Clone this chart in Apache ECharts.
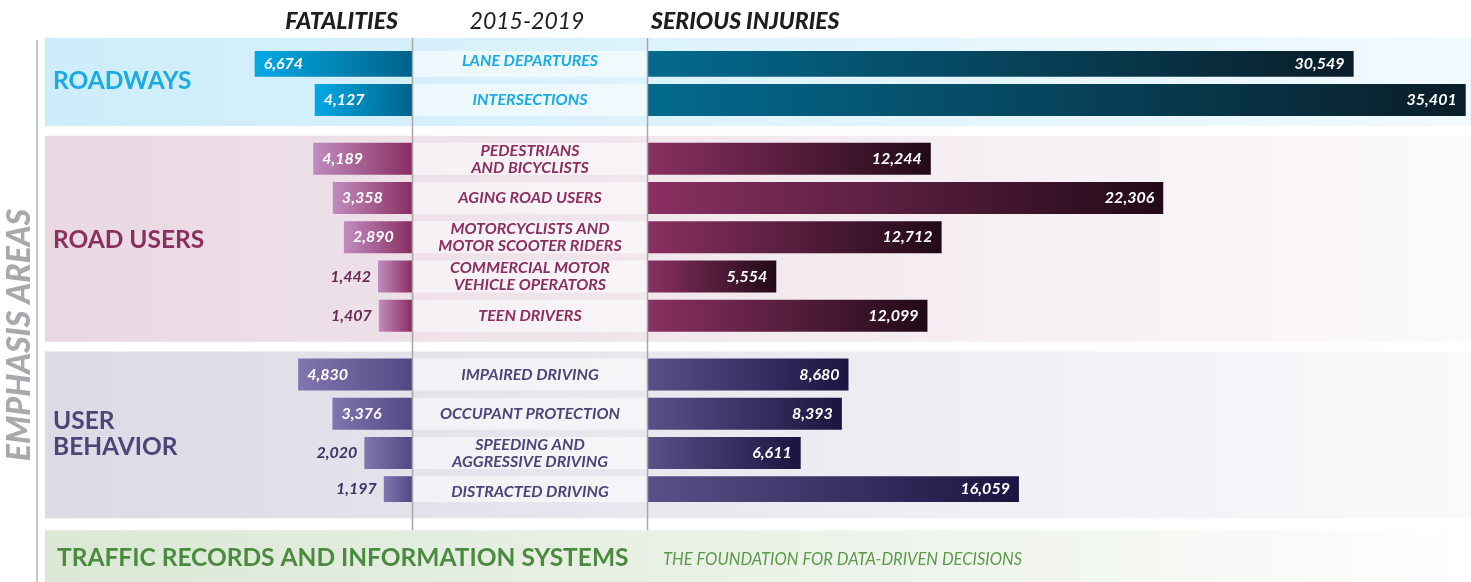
<!DOCTYPE html>
<html>
<head>
<meta charset="utf-8">
<title>Emphasis areas 2015-2019</title>
<script src="https://cdn.jsdelivr.net/npm/echarts@6/dist/echarts.min.js"></script>
<style>
  html, body { margin: 0; padding: 0; background: #fff; }
  #main { width: 1471px; height: 582px; }
</style>
</head>
<body>
<div id="main"></div>
<script>
// data
var groupLabels = ['ROADWAYS', 'ROAD USERS', 'USER\nBEHAVIOR'];
var categories = [
    'LANE DEPARTURES', 'INTERSECTIONS',
    'PEDESTRIANS\nAND BICYCLISTS', 'AGING ROAD USERS', 'MOTORCYCLISTS AND\nMOTOR SCOOTER RIDERS',
    'COMMERCIAL MOTOR\nVEHICLE OPERATORS', 'TEEN DRIVERS',
    'IMPAIRED DRIVING', 'OCCUPANT PROTECTION', 'SPEEDING AND\nAGGRESSIVE DRIVING', 'DISTRACTED DRIVING'
];
var categoryGroup = [0, 0, 1, 1, 1, 1, 1, 2, 2, 2, 2];
var fatalities = [6674, 4127, 4189, 3358, 2890, 1442, 1407, 4830, 3376, 2020, 1197];
var seriousInjuries = [30549, 35401, 12244, 22306, 12712, 5554, 12099, 8680, 8393, 6611, 16059];

// look
var FONT = 'Lato, "Open Sans", sans-serif';
var groupColor = ['#1aabe3', '#8b2f60', '#4d4478'];
var numDark = ['#00638a', '#6b2a53', '#3b3365'];
var fatalGrad = [['#00a9e5', '#00628a'], ['#c18cbf', '#892e61'], ['#8276b0', '#544884']];
var injGrad = [['#036a8f', '#0a1d28'], ['#8a3062', '#220a17'], ['#5a5089', '#1a1540']];
var bandGrad = [['#cdedfa', '#f1fafe'], ['#e9d8e2', '#fcfafb'], ['#dcdae5', '#fafafc']];

var LEFT_X = 247, MID_X = 412, RIGHT_X = 648, TOP = 51, H = 451;

function grad(c) {
    return new echarts.graphic.LinearGradient(0, 0, 1, 0, [
        { offset: 0, color: c[0] }, { offset: 1, color: c[1] }
    ]);
}
function fmt(v) { return Number(v).toLocaleString('en-US'); }

// one slot per row, a blank slot between rows, two between groups
var slots = [], fatalData = [], injData = [], stripData = [], slotLabel = {};
categories.forEach(function (name, i) {
    var grp = categoryGroup[i];
    if (i > 0) {
        var gaps = grp !== categoryGroup[i - 1] ? 2 : 1;
        for (var k = 0; k < gaps; k++) {
            var g = 'gap' + slots.length;
            slots.push(g);
            slotLabel[g] = '';
            fatalData.push('-');
            injData.push('-');
            stripData.push('-');
        }
    }
    var key = 'row' + i;
    slots.push(key);
    slotLabel[key] = name.split('\n').map(function (l) { return '{g' + grp + '|' + l + '}'; }).join('\n');
    var inside = fatalities[i] >= 2500;
    fatalData.push({
        value: fatalities[i],
        itemStyle: { color: grad(fatalGrad[grp]) },
        label: {
            position: inside ? 'insideLeft' : 'left',
            color: inside ? '#fff' : numDark[grp],
            distance: inside ? 9 : 7
        }
    });
    injData.push({ value: seriousInjuries[i], itemStyle: { color: grad(injGrad[grp]) } });
    stripData.push(1);
});

var rich = {};
groupColor.forEach(function (c, i) {
    rich['g' + i] = {
        color: c, fontFamily: FONT, fontSize: 16, fontWeight: 'bold', fontStyle: 'italic',
        lineHeight: 17, align: 'center'
    };
});

var valueLabel = {
    show: true,
    formatter: function (p) { return fmt(p.value); },
    fontFamily: FONT, fontSize: 16, fontWeight: 'bold', fontStyle: 'italic'
};

var chart = echarts.init(document.getElementById('main'));
chart.setOption({
    animation: false,
    grid: [
        { left: LEFT_X, width: MID_X - LEFT_X, top: TOP, height: H },
        { left: MID_X + 1, width: RIGHT_X - MID_X - 2, top: TOP, height: H },
        { left: RIGHT_X, right: 3, top: TOP, height: H }
    ],
    xAxis: [
        { gridIndex: 0, type: 'value', inverse: true, min: 0, max: 7000, show: false },
        { gridIndex: 1, type: 'value', min: 0, max: 1, show: false },
        { gridIndex: 2, type: 'value', min: 0, max: 35500, show: false }
    ],
    yAxis: [
        {
            gridIndex: 0, type: 'category', data: slots, inverse: true, position: 'right', z: 5,
            axisLine: { show: false }, axisTick: { show: false }, splitLine: { show: false },
            axisLabel: {
                interval: 0, margin: 118, align: 'center',
                formatter: function (v) { return slotLabel[v]; },
                rich: rich
            }
        },
        { gridIndex: 1, type: 'category', data: slots, inverse: true, show: false },
        { gridIndex: 2, type: 'category', data: slots, inverse: true, show: false }
    ],
    series: [
        {
            name: 'FATALITIES', type: 'bar', xAxisIndex: 0, yAxisIndex: 0,
            barWidth: 32, data: fatalData, label: valueLabel
        },
        {
            name: 'strip', type: 'bar', xAxisIndex: 1, yAxisIndex: 1, z: 1, silent: true,
            barWidth: 32, data: stripData,
            itemStyle: { color: 'rgba(255,255,255,0.55)' }
        },
        {
            name: 'SERIOUS INJURIES', type: 'bar', xAxisIndex: 2, yAxisIndex: 2,
            barWidth: 32, data: injData,
            label: Object.assign({}, valueLabel, { position: 'insideRight', color: '#fff', distance: 9 })
        }
    ]
});

// bands, headers and frame lines placed from the axis scale
function yOf(key) { return chart.convertToPixel({ yAxisIndex: 0 }, key); }

var elements = [];
groupLabels.forEach(function (label, g) {
    var first = categoryGroup.indexOf(g), last = categoryGroup.lastIndexOf(g);
    var yA = yOf('row' + first), yB = yOf('row' + last);
    elements.push({
        type: 'rect', z: -10,
        shape: { x: 45, y: yA - 23, width: 1426, height: yB - yA + 49 },
        style: { fill: grad(bandGrad[g]) }
    });
    elements.push({
        type: 'text', z: 10, x: 53, y: (yA + yB) / 2 + (g === 1 ? 3 : 1),
        style: {
            text: label, fill: groupColor[g], fontFamily: FONT, fontSize: 24.5, fontWeight: 'bold',
            lineHeight: 26, verticalAlign: 'middle'
        }
    });
});

var bottomY = yOf('row' + (categories.length - 1)) + 38;
elements.push(
    {
        type: 'rect', z: -10,
        shape: { x: 45, y: bottomY, width: 1426, height: 582 - bottomY },
        style: { fill: new echarts.graphic.LinearGradient(0, 0, 1, 0, [
            { offset: 0, color: '#dbe8d5' }, { offset: 0.75, color: '#f3f7f1' }, { offset: 1, color: '#ffffff' }
        ]) }
    },
    {
        type: 'text', z: 10, x: 57, y: bottomY + 28,
        style: { text: 'TRAFFIC RECORDS AND INFORMATION SYSTEMS', fill: '#4b8b3f', fontFamily: FONT,
            fontSize: 24.5, fontWeight: 'bold', verticalAlign: 'middle' }
    },
    {
        type: 'text', z: 10, x: 663, y: bottomY + 29,
        style: { text: 'THE FOUNDATION FOR DATA-DRIVEN DECISIONS', fill: '#5a9a4a', fontFamily: FONT,
            fontSize: 16.5, fontStyle: 'italic', verticalAlign: 'middle' }
    },
    {
        type: 'line', z: 8,
        shape: { x1: MID_X + 0.5, y1: 38, x2: MID_X + 0.5, y2: bottomY },
        style: { stroke: '#a8a8a8', lineWidth: 1.5 }
    },
    {
        type: 'line', z: 8,
        shape: { x1: RIGHT_X - 0.5, y1: 38, x2: RIGHT_X - 0.5, y2: bottomY },
        style: { stroke: '#a8a8a8', lineWidth: 1.5 }
    },
    {
        type: 'line', z: 8,
        shape: { x1: 37, y1: 40, x2: 37, y2: 582 },
        style: { stroke: '#c6c6c6', lineWidth: 2 }
    },
    {
        type: 'text', z: 10, x: 20, y: 335, rotation: Math.PI / 2,
        style: { text: 'EMPHASIS AREAS', fill: '#a7a9ac', fontFamily: FONT, fontSize: 32,
            fontWeight: 900, fontStyle: 'italic', align: 'center', verticalAlign: 'middle' }
    },
    {
        type: 'text', z: 10, x: 398, y: 22,
        style: { text: 'FATALITIES', fill: '#1e1e1e', fontFamily: FONT, fontSize: 23,
            fontWeight: 900, fontStyle: 'italic', align: 'right', verticalAlign: 'middle' }
    },
    {
        type: 'text', z: 10, x: 527, y: 22,
        style: { text: '2015-2019', fill: '#1e1e1e', fontFamily: FONT, fontSize: 23,
            fontStyle: 'italic', align: 'center', verticalAlign: 'middle' }
    },
    {
        type: 'text', z: 10, x: 651, y: 22,
        style: { text: 'SERIOUS INJURIES', fill: '#1e1e1e', fontFamily: FONT, fontSize: 23,
            fontWeight: 900, fontStyle: 'italic', align: 'left', verticalAlign: 'middle' }
    }
);
chart.setOption({ graphic: { elements: elements } });
</script>
</body>
</html>
